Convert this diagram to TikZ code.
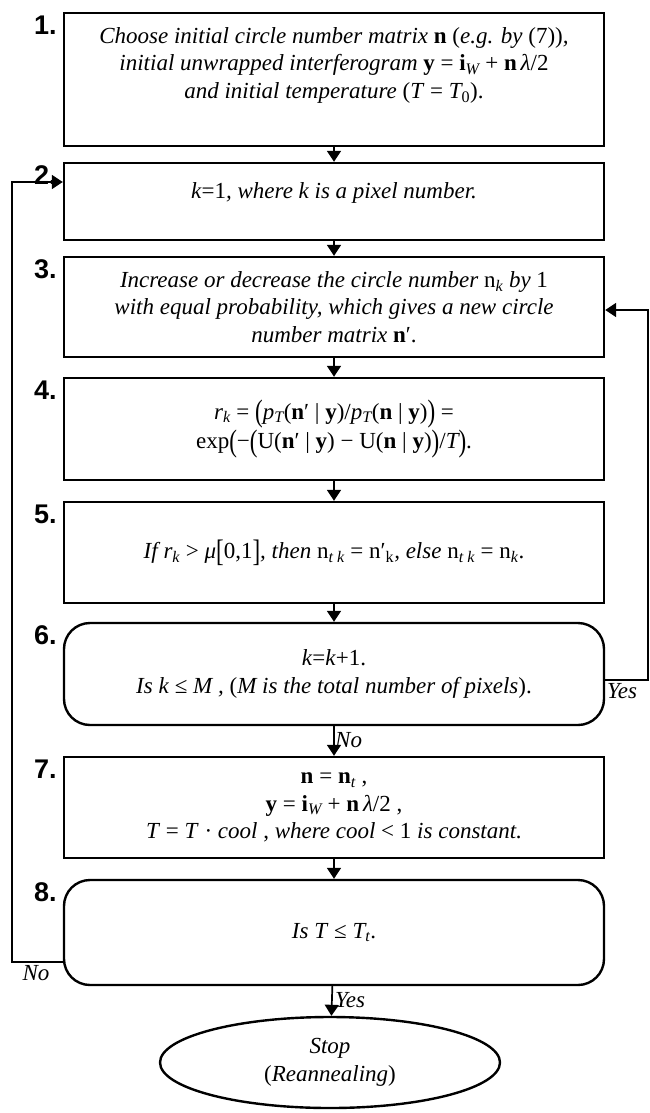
\documentclass[tikz,border=0pt]{standalone}
\usepackage{fontspec}
\setmainfont{Liberation Serif}
\newfontfamily\numfont{Liberation Sans}
\usetikzlibrary{arrows.meta, shapes.geometric, positioning, calc}

\newcommand{\bvec}[1]{\textup{\textbf{#1}}}
\newcommand{\up}[1]{\textup{#1}}
\newcommand{\sbs}[1]{\textsubscript{#1}}
\newcommand{\bigp}[1]{\raisebox{-0.12em}{\scalebox{1}[1.35]{\up{#1}}}}
\newcommand{\lift}[2]{\raisebox{#1}[\height][\depth]{#2}}
\newcommand{\stepfont}{\fontsize{23}{27.5}\selectfont\itshape}

\tikzset{
  stepbox/.style={draw, line width=2.4pt, minimum width=540pt, align=center,
                  font=\stepfont, inner sep=0pt},
  roundbox/.style={stepbox, rounded corners=26pt},
  numlabel/.style={font=\numfont\fontsize{27}{27}\selectfont\bfseries,
                   anchor=north east, inner sep=0pt},
  flow/.style={line width=1.7pt, -{Triangle[length=11pt,width=14pt]}},
  tag/.style={font=\stepfont, inner sep=1pt}
}

\begin{document}
\begin{tikzpicture}[x=1pt, y=-1pt]
\useasboundingbox (0,0) rectangle (650,1113);

% steps
\node[stepbox, minimum height=133pt] (s1) at (334,79.5)
  {\lift{14pt}{\begin{tabular}{@{}c@{}}
   Choose initial circle number matrix \bvec{n} \up{(}e.g. by \up{(7))},\\
   initial unwrapped interferogram \bvec{y}\up{ = }\bvec{i}\sbs{W}\up{ + }\bvec{n}\,λ\up{/2}\\
   and initial temperature \up{(}T\up{ = }T\sbs{\up{0}}\up{).}\end{tabular}}};
\node[stepbox, minimum height=77pt] (s2) at (334,201.5)
  {\lift{9pt}{k\up{=1}, where k is a pixel number.}};
\node[stepbox, minimum height=100pt] (s3) at (334,307)
  {Increase or decrease the circle number \up{n}\sbs{k} by \up{1}\\
   with equal probability, which gives a new circle\\
   number matrix \bvec{n}\up{′}\up{.}};
\node[stepbox, minimum height=102pt] (s4) at (334,429)
  {r\sbs{k}\up{ = }\bigp{(}p\sbs{T}\up{(}\bvec{n}\up{′ | }\bvec{y}\up{)/}p\sbs{T}\up{(}\bvec{n}\up{ | }\bvec{y}\up{)}\bigp{)}\up{ =}\\
   \up{exp}\bigp{(}\up{−}\bigp{(}\up{U(}\bvec{n}\up{′ | }\bvec{y}\up{) − U(}\bvec{n}\up{ | }\bvec{y}\up{)}\bigp{)}\up{/}T\bigp{)}\up{.}};
\node[stepbox, minimum height=101pt] (s5) at (334,552.5)
  {If r\sbs{k} \up{>} μ\bigp{[}\up{0,1}\bigp{]}, then \up{n}\sbs{t k} \up{=} \up{n′}\sbs{\up{k}}, else \up{n}\sbs{t k} \up{=} \up{n}\sbs{k}\up{.}};
\node[roundbox, minimum height=102pt] (s6) at (334,674)
  {k\up{=}k\up{+1.}\\
   Is k \up{≤} M , \up{(}M is the total number of pixels\up{).}};
\node[stepbox, minimum height=101pt] (s7) at (334,807.5)
  {\bvec{n}\up{ = }\bvec{n}\sbs{t}\up{ ,}\\
   \bvec{y}\up{ = }\bvec{i}\sbs{W}\up{ + }\bvec{n}\,λ\up{/2 ,}\\
   T\up{ = }T\up{ · }cool\up{ ,} where cool\up{ < 1} is constant.};
\node[roundbox, minimum height=105pt] (s8) at (334,932.5)
  {Is T\up{ ≤ }T\sbs{t}\up{.}};
\node[draw, ellipse, line width=2.4pt, minimum width=340pt, minimum height=91pt,
      align=center, font=\stepfont, inner sep=0pt] (stop) at (330,1062.5)
  {Stop\\\up{(}Reannealing\up{)}};

% numbers
\foreach \i in {1,...,8}
  \node[numlabel] (n\i) at ([xshift=-6pt,yshift=-4pt]s\i.north west) {\i.};

% straight arrows
\foreach \a/\b in {s1/s2, s2/s3, s3/s4, s4/s5, s5/s6, s6/s7, s7/s8, s8/stop}
  \draw[flow] (\a) -- (\b);

% loops
\coordinate (rbot) at (648,680);
\coordinate (rtop) at (648,310);
\draw[flow] (rbot -| s6.east) -- (rbot) -- (rtop) -- (rtop -| s3.east);
\coordinate (lbot) at (12,962);
\coordinate (ltop) at (12,182);
\draw[flow] (lbot -| s8.west) -- (lbot) -- (ltop) -- (ltop -| s2.west);

% answers
\node[tag, anchor=north west] (yes6) at (606,682) {Yes};
\node[tag, anchor=west] (no6) at ([yshift=-14pt]s6.south) {No};
\node[tag, anchor=west] (yes8) at ([yshift=-14pt]s8.south) {Yes};
\node[tag, anchor=north] (no8) at (36,964) {No};
\end{tikzpicture}
\end{document}
